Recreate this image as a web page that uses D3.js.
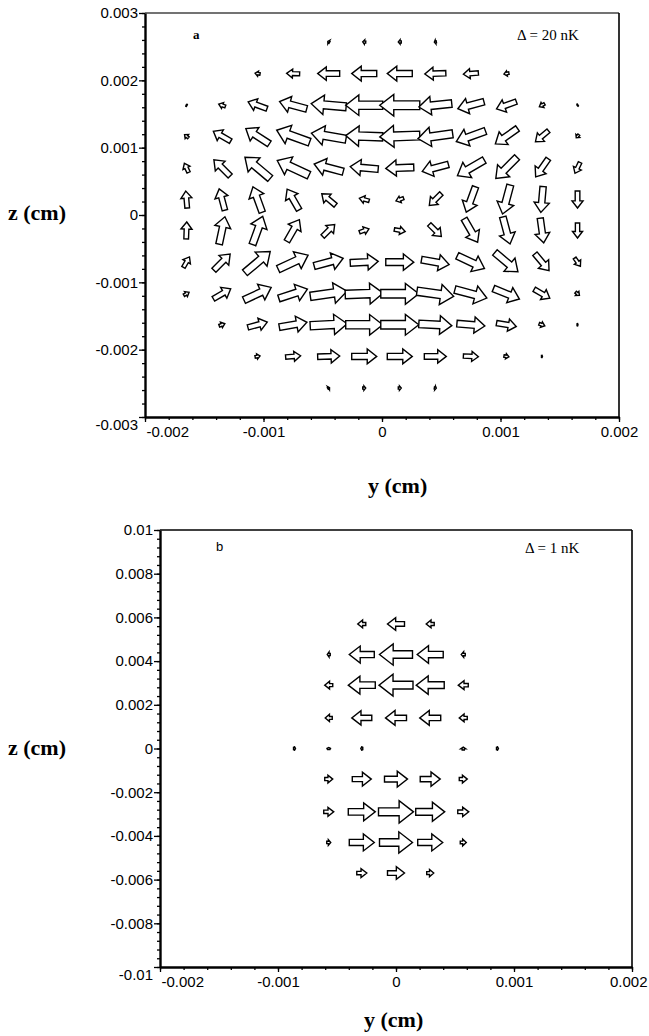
<!DOCTYPE html>
<html><head><meta charset="utf-8">
<script src="https://cdn.jsdelivr.net/npm/d3@7"></script>
<style>body{margin:0;background:#fff;} svg{display:block}</style>
</head><body>
<svg id="c" width="649" height="1036"></svg>
<script>
// ---------- Panel a data (Δ = 20 nK) ----------
const aYgrid = [-0.00165,-0.00135,-0.00105,-0.00075,-0.00045,-0.00015,0.00015,0.00045,0.00075,0.00105,0.00135,0.00165];
const aZgrid = [0.00257,0.0021,0.00163,0.00117,0.0007,0.00023,-0.00023,-0.0007,-0.00117,-0.00163,-0.0021,-0.00257];
// arrow magnitudes (arbitrary units), rows = z (top to bottom), cols = y (left to right)
const aMag = [
  [0,0,0,0,2,3,3,2,0,0,0,0],
  [0,0,5,13,22,25,25,21,15,5,0,0],
  [1,7,20,28,35,37,40,33,27,21,6,1],
  [5,20,28,35,35,37,40,35,31,27,17,4],
  [10,23,33,35,30,28,28,27,31,30,22,12],
  [17,22,27,24,18,10,8,17,27,30,26,17],
  [17,28,30,25,17,10,11,17,27,28,25,15],
  [12,23,33,33,30,28,28,28,30,30,22,10],
  [6,20,30,30,37,38,38,37,33,28,18,5],
  [0,6,20,28,37,37,38,33,28,20,6,1],
  [0,0,5,15,22,25,25,22,15,5,1,0],
  [0,0,0,0,2,3,3,2,0,0,0,0]
];
// arrow directions (degrees, counter-clockwise from +y)
const aDir = [
  [180,180,180,180,150,175,180,190,180,180,180,180],
  [180,180,170,178,180,180,180,182,185,190,180,180],
  [150,160,160,165,175,180,180,186,195,200,210,210],
  [140,150,147,160,170,178,182,188,200,215,220,230],
  [115,135,140,155,165,175,182,195,210,225,235,245],
  [95,105,110,120,140,165,200,225,250,255,265,270],
  [88,78,70,60,45,20,-10,-45,-60,-75,-82,-90],
  [60,45,40,25,15,3,0,-10,-25,-40,-50,-55],
  [30,30,25,18,8,2,0,-8,-15,-22,-30,-40],
  [0,20,15,10,3,0,0,-3,-5,-10,-20,0],
  [0,0,10,5,2,0,0,0,-3,-10,0,0],
  [0,0,0,0,30,0,0,-10,0,0,0,0]
];
const aYTicks = [-0.003,-0.002,-0.001,0,0.001,0.002,0.003];
const aYTickLabels = ["-0.003","-0.002","-0.001","0","0.001","0.002","0.003"];
const aXTicks = [-0.002,-0.001,0,0.001,0.002];
const aXTickLabels = ["-0.002","-0.001","0","0.001","0.002"];

// ---------- Panel b data (Δ = 1 nK) ----------
const bYgrid = [-0.00086,-0.00057,-0.00029,0,0.00029,0.00057,0.00086];
const bZgrid = [0.0057,0.0043,0.0029,0.0014,0,-0.0014,-0.0029,-0.0043,-0.0057];
const bMag = [
  [0,0,8,17,8,0,0],
  [0,3,25,33,26,4,0],
  [0,8,27,34,28,10,0],
  [0,7,20,21,21,8,0],
  [2,2,2,0,0,3,2],
  [0,8,19,23,20,8,0],
  [0,10,27,35,29,11,0],
  [0,4,25,33,25,6,0],
  [0,0,10,17,7,0,0]
];
const bDir = [
  [180,180,180,180,180,180,180],
  [180,180,180,180,180,180,180],
  [180,180,180,180,180,180,180],
  [180,180,180,180,180,180,180],
  [0,90,180,0,0,90,0],
  [0,0,0,0,0,0,0],
  [0,0,0,0,0,0,0],
  [0,0,0,0,0,0,0],
  [0,0,0,0,0,0,0]
];
const bYTicks = [-0.01,-0.008,-0.006,-0.004,-0.002,0,0.002,0.004,0.006,0.008,0.01];
const bYTickLabels = ["-0.01","-0.008","-0.006","-0.004","-0.002","0","0.002","0.004","0.006","0.008","0.01"];
const bXTicks = [-0.002,-0.001,0,0.001,0.002];
const bXTickLabels = ["-0.002","-0.001","0","0.001","0.002"];

// ---------- drawing ----------
const svg = d3.select("#c");
const tickFont = "'Liberation Sans', Arial, sans-serif";
const serif = "'Liberation Serif', 'Times New Roman', serif";

function arrowPoints(L, k) {
  let sw = 0.18*L + 1.6, hw = (0.47*L + 3)*k, hl = (0.3*L + 2)*k;
  if (hl > 0.6*L) hl = 0.6*L;
  const a = -L/2, b = L/2, c = b - hl;
  return [[a,-sw/2],[c,-sw/2],[c,-hw/2],[b,0],[c,hw/2],[c,sw/2],[a,sw/2]];
}

function panel(cfg) {
  const {x0,x1,y0,y1,xDom,yDom,xTicks,xLabels,yTicks,yLabels,xMinor,yMinor,yg,zg,mag,dir,tag,tagFont,tagX,tagY,delta,deltaX,deltaY,topColor,headK,lastXEnd} = cfg;
  const x = d3.scaleLinear().domain(xDom).range([x0,x1]);
  const y = d3.scaleLinear().domain(yDom).range([y1,y0]);
  const len = d3.scaleLinear().domain([0,40]).range([0,40]);
  const g = svg.append("g");

  // borders
  g.append("line").attr("x1",x0).attr("x2",x1).attr("y1",y0).attr("y2",y0)
    .attr("stroke",topColor).attr("stroke-width",1.3);
  g.append("line").attr("x1",x1).attr("x2",x1).attr("y1",y0).attr("y2",y1)
    .attr("stroke","#000").attr("stroke-width",1.6);

  // minor ticks
  const yMin = d3.axisLeft(y).tickValues(yMinor).tickSize(3).tickSizeOuter(0).tickFormat("");
  const xMin = d3.axisBottom(x).tickValues(xMinor).tickSize(3).tickSizeOuter(0).tickFormat("");
  g.append("g").attr("transform",`translate(${x0},0)`).call(yMin).call(s=>s.select(".domain").remove());
  g.append("g").attr("transform",`translate(0,${y1})`).call(xMin).call(s=>s.select(".domain").remove());

  // major axes
  const yAx = d3.axisLeft(y).tickValues(yTicks).tickSize(6).tickSizeOuter(0)
    .tickFormat((d,i)=>yLabels[i]).tickPadding(1);
  const xAx = d3.axisBottom(x).tickValues(xTicks).tickSize(5).tickSizeOuter(0)
    .tickFormat((d,i)=>xLabels[i]).tickPadding(4);
  const ya = g.append("g").attr("transform",`translate(${x0},0)`).call(yAx);
  const xa = g.append("g").attr("transform",`translate(0,${y1})`).call(xAx);
  [ya,xa].forEach(a=>{
    a.select(".domain").attr("stroke-width",2.4);
    a.selectAll("text").attr("font-family",tickFont).attr("font-size",15).attr("fill","#000");
  });
  g.selectAll(".tick line").attr("stroke","#000").attr("stroke-width",1.3);
  // bottom-most y label shifted down, left-most x label starts at axis
  ya.selectAll(".tick text").filter((d,i)=>i===0).attr("dy","0.8em");
  xa.selectAll(".tick text").filter((d,i)=>i===0).attr("text-anchor","start").attr("dx",1);
  if (lastXEnd) {
    xa.selectAll(".tick text").filter((d,i)=>i===xTicks.length-1)
      .attr("text-anchor","end").attr("dx", lastXEnd - x1);
  }

  // arrows
  zg.forEach((zv,i)=>{
    yg.forEach((yv,j)=>{
      const m = mag[i][j];
      if (!m) return;
      const L = len(m);
      const pts = arrowPoints(L, headK);
      g.append("polygon")
        .attr("points", pts.map(p=>p.join(",")).join(" "))
        .attr("transform",`translate(${x(yv)},${y(zv)}) rotate(${-dir[i][j]})`)
        .attr("fill","#fff").attr("stroke","#000").attr("stroke-width",1.4)
        .attr("stroke-linejoin","miter");
    });
  });

  // annotations
  g.append("text").attr("x",tagX).attr("y",tagY).text(tag)
    .attr("font-family",tagFont).attr("font-size",13).attr("font-weight",tag==="a"?"bold":"normal");
  g.append("text").attr("x",deltaX).attr("y",deltaY).text(delta)
    .attr("font-family",serif).attr("font-size",15);
  return {x,y};
}

panel({x0:145,x1:619,y0:13,y1:417,xDom:[-0.002,0.002],yDom:[-0.003,0.003],
  xTicks:aXTicks,xLabels:aXTickLabels,yTicks:aYTicks,yLabels:aYTickLabels,
  xMinor:d3.range(-20,21,2).map(v=>v/10000),yMinor:d3.range(-30,31,2).map(v=>v/10000),
  yg:aYgrid,zg:aZgrid,mag:aMag,dir:aDir,tag:"a",tagFont:serif,tagX:193,tagY:39,
  delta:"Δ = 20 nK",deltaX:517,deltaY:40,topColor:"#444",headK:1,lastXEnd:null});

panel({x0:160,x1:632,y0:530,y1:967,xDom:[-0.002,0.002],yDom:[-0.01,0.01],
  xTicks:bXTicks,xLabels:bXTickLabels,yTicks:bYTicks,yLabels:bYTickLabels,
  xMinor:d3.range(-20,21,2).map(v=>v/10000),yMinor:d3.range(-100,101,4).map(v=>v/10000),
  yg:bYgrid,zg:bZgrid,mag:bMag,dir:bDir,tag:"b",tagFont:tickFont,tagX:216,tagY:551,
  delta:"Δ = 1 nK",deltaX:525,deltaY:553,topColor:"#000",headK:1.15,lastXEnd:647});

// axis titles
const titles = [
  {t:"z (cm)",x:8,y:220},
  {t:"y (cm)",x:368,y:493},
  {t:"z (cm)",x:8,y:755},
  {t:"y (cm)",x:364,y:1027}
];
svg.selectAll("text.title").data(titles).enter().append("text").attr("class","title")
  .attr("x",d=>d.x).attr("y",d=>d.y).text(d=>d.t)
  .attr("font-family",serif).attr("font-size",22).attr("font-weight","bold");
</script>
</body></html>
